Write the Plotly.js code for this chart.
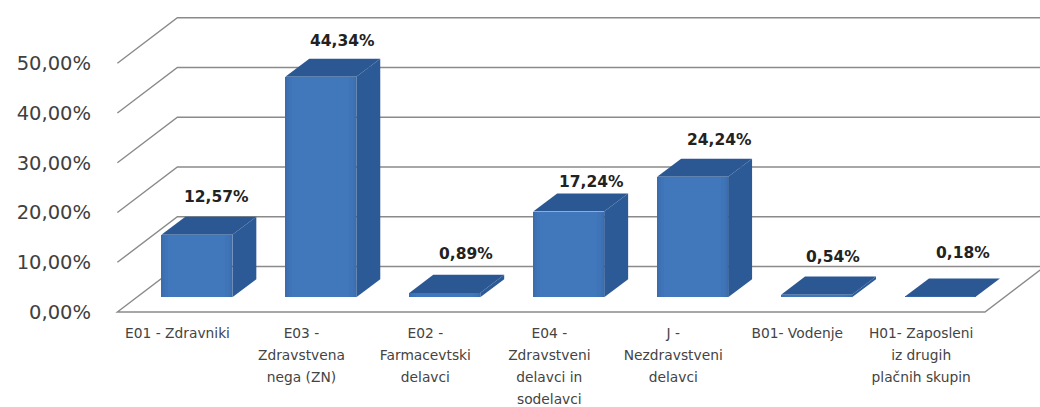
<!DOCTYPE html>
<html>
<head>
<meta charset="utf-8">
<script src="https://cdn.plot.ly/plotly-3.0.1.min.js"></script>
<style>html,body{margin:0;padding:0;background:#fff}#c{width:1040px;height:407px}</style>
</head>
<body>
<div id="c"></div>
<script>
const categories = [
  'E01 - Zdravniki',
  'E03 -<br>Zdravstvena<br>nega (ZN)',
  'E02 -<br>Farmacevtski<br>delavci',
  'E04 -<br>Zdravstveni<br>delavci in<br>sodelavci',
  'J -<br>Nezdravstveni<br>delavci',
  'B01- Vodenje',
  'H01- Zaposleni<br>iz drugih<br>plačnih skupin'
];
const values = [12.57, 44.34, 0.89, 17.24, 24.24, 0.54, 0.18];
const yTicks = [0, 10, 20, 30, 40, 50];
const yTickLabels = ['0,00%', '10,00%', '20,00%', '30,00%', '40,00%', '50,00%'];

// Pixel scale of the pseudo-3D projection
const pxX = 124, pxY = 4.97;
const wallDX = 60 / pxX, wallDY = 45.5 / pxY;      // depth of the floor
const barW = 71 / pxX, barShift = 17.5 / pxX;       // front face width / shift
const barBase = 14.7 / pxY;                         // front face raised from front floor edge
const depthDX = 24 / pxX, depthDY = 18 / pxY;       // depth of a bar
const xLeft = -0.5, xRight = 6.5;
const labelDX = [20, 22, 21, 23, 27, 16, 23];
const labelDY = [38, 36, 39, 30, 37, 38, 43];

const idx = values.map((_, i) => i);
const cx = idx.map(i => i + barShift);

const traces = [];
// front faces with soft horizontal shading (layered bars)
[[1, '#3a6cae'], [0.96, '#3d71b4'], [0.9, '#3f74b8'], [0.8, '#4177bb']].forEach(([k, col]) => {
  traces.push({
    type: 'bar', x: cx, y: values, base: values.map(() => barBase),
    width: barW * k, marker: {color: col, line: {width: 0}},
    hoverinfo: 'skip', showlegend: false
  });
});
// side and top faces
values.forEach((v, i) => {
  const x1 = cx[i] + barW / 2, x0 = cx[i] - barW / 2;
  traces.push({
    type: 'scatter', mode: 'lines', fill: 'toself', fillcolor: '#2c5a96',
    line: {width: 0, color: '#2c5a96'}, hoverinfo: 'skip', showlegend: false,
    x: [x1, x1 + depthDX, x1 + depthDX, x1, x1],
    y: [barBase, barBase + depthDY, barBase + v + depthDY, barBase + v, barBase]
  });
  traces.push({
    type: 'scatter', mode: 'lines', fill: 'toself', fillcolor: '#2b5893',
    line: {width: 0, color: '#2b5893'}, hoverinfo: 'skip', showlegend: false,
    x: [x0, x1, x1 + depthDX, x0 + depthDX, x0],
    y: [barBase + v, barBase + v, barBase + v + depthDY, barBase + v + depthDY, barBase + v]
  });
});

// grid lines on the walls
const shapes = yTicks.map(t => {
  const d = t === 0
    ? `M ${xLeft} 0 L ${xRight} 0 L ${xRight + wallDX} ${wallDY} L ${xLeft + wallDX} ${wallDY} Z`
    : `M ${xLeft} ${t} L ${xLeft + wallDX} ${t + wallDY} L ${xRight + wallDX} ${t + wallDY}`;
  return {type: 'path', path: d, xref: 'x', yref: 'y', layer: 'below',
          line: {color: '#8a8a8a', width: 1.4}};
});

const annotations = values.map((v, i) => ({
  x: cx[i], y: barBase + v, xref: 'x', yref: 'y',
  text: v.toFixed(2).replace('.', ',') + '%',
  showarrow: false, xanchor: 'center', yanchor: 'middle',
  xshift: labelDX[i], yshift: labelDY[i],
  font: {family: 'DejaVu Sans', size: 15.5, color: '#222', weight: 700}
}));

const layout = {
  width: 1040, height: 407,
  margin: {l: 104.6, r: 0, t: 10, b: 87.35, pad: 0},
  paper_bgcolor: '#fff', plot_bgcolor: '#fff',
  showlegend: false, barmode: 'overlay', bargap: 0,
  xaxis: {
    range: [-0.6, 6.944], showgrid: false, zeroline: false, showline: false, ticks: '',
    tickmode: 'array', tickvals: idx.map(i => i - 0.015),
    ticktext: categories.map(c => `<span style="font-size:13.8px">${c}</span>`),
    tickfont: {family: 'DejaVu Sans', size: 17, color: '#444'},
    tickangle: 0, automargin: false
  },
  yaxis: {
    range: [-1.6, 60.7], showgrid: false, zeroline: false, showline: false, ticks: '',
    tickmode: 'array', tickvals: yTicks, ticktext: yTickLabels,
    tickfont: {family: 'DejaVu Sans', size: 19.5, color: '#404040'},
    ticklabelstandoff: 13, automargin: false
  },
  shapes, annotations
};
Plotly.newPlot('c', traces, layout, {displayModeBar: false, staticPlot: true});
</script>
</body>
</html>
